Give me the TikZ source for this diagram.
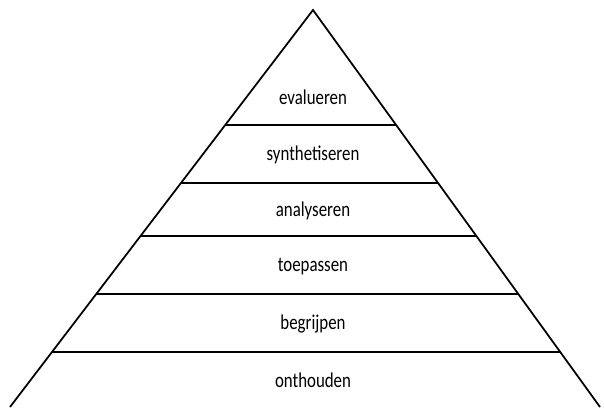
\documentclass[tikz,border=0pt]{standalone}
\usepackage{fontspec}
\setmainfont{Carlito}
\newfontfamily\narrowfont[FakeStretch=0.8]{Carlito}
\usetikzlibrary{calc}

\begin{document}
\begin{tikzpicture}[
    x=0.02cm, y=-0.02cm,
    edge/.style={black, line width=1pt},
    level/.style={font=\narrowfont\fontsize{12}{14}\selectfont, inner sep=0pt}
]
    \useasboundingbox (0,0) rectangle (604,407);

    \coordinate (top) at (313,10);
    \coordinate (bl) at (10,407);
    \coordinate (br) at (600,407);

    \draw[edge] (bl) -- (top) -- (br);

    % Layer separators:
    \foreach \t [count=\i] in {0.2897, 0.4358, 0.5693, 0.7154, 0.8615} {
        \coordinate (l\i) at ($(top)!\t!(bl)$);
        \coordinate (r\i) at ($(top)!\t!(br)$);
        \draw[edge] (l\i) -- (r\i);
    }

    \foreach \name/\y in {evalueren/97, synthetiseren/155, analyseren/211, toepassen/267, begrijpen/324, onthouden/380} {
        \node[level] (\name) at (313,\y) {\name};
    }

\end{tikzpicture}
\end{document}
